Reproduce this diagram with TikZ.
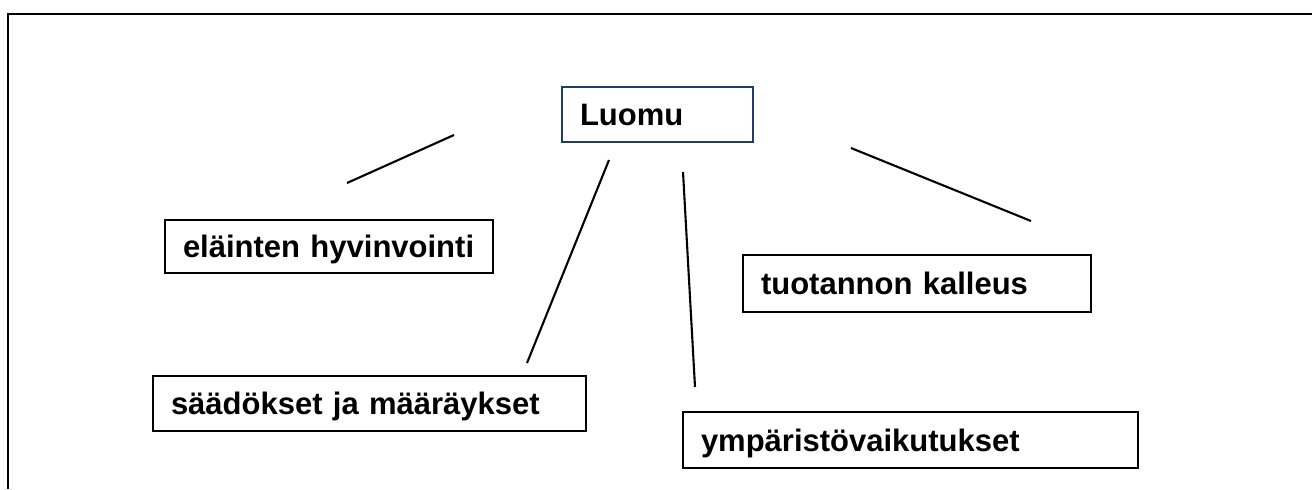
\documentclass[tikz,border=0pt]{standalone}
\usepackage{fontspec}
\setmainfont{Liberation Sans}
\usepackage{tikz}
\definecolor{navy}{RGB}{31,61,108}

\begin{document}
\begin{tikzpicture}[x=0.5pt,y=-0.5pt]
                      \tikzstyle{box}=[draw=black,line width=1.15pt,inner xsep=9pt,inner ysep=0pt,align=left,text height=11.1pt,text depth=0pt,font=\fontsize{15.5}{18}\selectfont\bfseries]
                      \tikzstyle{link}=[line width=1.05pt]
                      \useasboundingbox (0,0) rectangle (1312,489);
                      \draw[line width=1pt] (8,489) -- (8,14) -- (1312,14);
                      \node[box,draw=navy,text width=77.5pt,minimum height=27.5pt] (l) at (657.5,114.5) {Luomu};
                      \node[box,text width=146pt,minimum height=26.5pt] (e) at (329,246.5) {eläinten hyvinvointi};
                      \node[box,text width=156pt,minimum height=28.5pt] (t) at (917,283.5) {tuotannon kalleus};
                      \node[box,text width=198.5pt,minimum height=27.5pt] (s) at (369.5,403.5) {säädökset ja määräykset};
                      \node[box,text width=209.5pt,minimum height=28pt] (y) at (910.5,440) {ympäristövaikutukset};
                      \coordinate (a1) at (347,183);
                      \coordinate (a2) at (454,135);
                      \coordinate (b1) at (609,160);
                      \coordinate (b2) at (527,363);
                      \coordinate (c1) at (683,172);
                      \coordinate (c2) at (695,387);
                      \coordinate (d1) at (851,148);
                      \coordinate (d2) at (1031,221);
                      \draw[link] (a1) -- (a2);
                      \draw[link] (b1) -- (b2);
                      \draw[link] (c1) -- (c2);
                      \draw[link] (d1) -- (d2);
                  \end{tikzpicture}
\end{document}
